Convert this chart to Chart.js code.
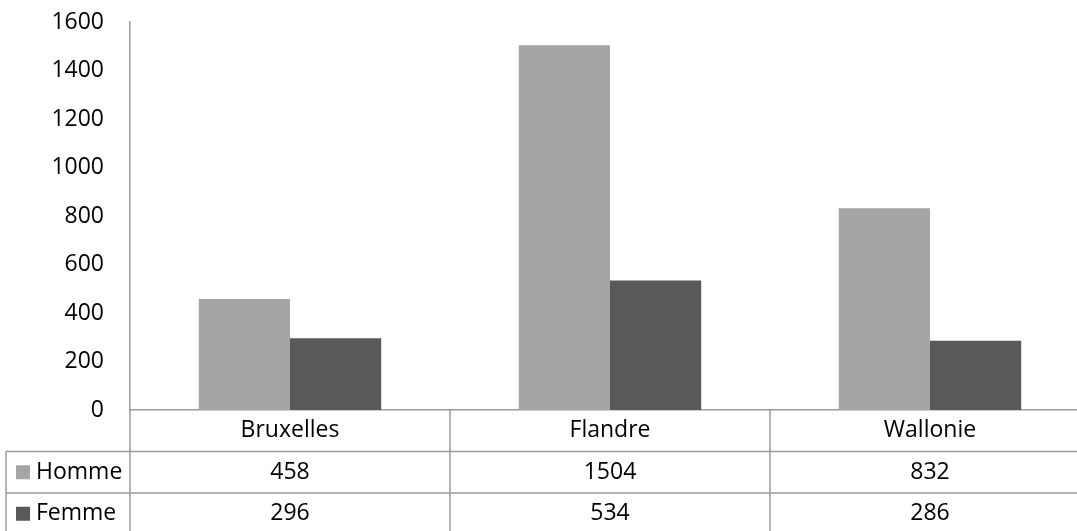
<!DOCTYPE html>
<html><head><meta charset="utf-8">
<script src="https://cdn.jsdelivr.net/npm/chart.js@4"></script>
<style>html,body{margin:0;padding:0;overflow:hidden;background:#fff}#wrap{width:1090px;height:531px;position:relative}</style>
</head><body><div id="wrap"><canvas id="c"></canvas></div>
<script>
const categories = ['Bruxelles', 'Flandre', 'Wallonie'];
const seriesNames = ['Homme', 'Femme'];
const homme = [458, 1504, 832];
const femme = [296, 534, 286];
const yTicks = [0, 200, 400, 600, 800, 1000, 1200, 1400, 1600];
const colors = ['#a5a5a5', '#595959'];
const FONT = '"Open Sans", sans-serif';
const FS = 23;
const LINE = '#9a9a9a';

const tablePlugin = {
  id: 'table',
  afterDraw(chart) {
    const ctx = chart.ctx, xs = chart.scales.x, ca = chart.chartArea;
    const n = categories.length, catW = (ca.right - ca.left) / n;
    const top = ca.bottom, rowH = 41.5, bottom = top + rowH * 3;
    const labelLeft = 6;
    ctx.save();
    ctx.strokeStyle = LINE; ctx.lineWidth = 1.5;
    ctx.beginPath();
    for (let i = 0; i <= n; i++) {
      const x = ca.left + catW * i;
      ctx.moveTo(x, top); ctx.lineTo(x, bottom);
    }
    ctx.moveTo(labelLeft, top + rowH); ctx.lineTo(labelLeft, bottom);
    for (let r = 1; r <= 3; r++) {
      const y = top + rowH * r;
      ctx.moveTo(labelLeft, y); ctx.lineTo(ca.right + 5, y);
    }
    ctx.stroke();
    ctx.fillStyle = '#000'; ctx.font = FS + 'px ' + FONT;
    ctx.textAlign = 'center'; ctx.textBaseline = 'middle';
    const rows = [homme, femme];
    categories.forEach((c, i) => {
      const cx = xs.getPixelForValue(i);
      ctx.fillText(c, cx, top + rowH / 2);
      rows.forEach((vals, r) => ctx.fillText(String(vals[i]), cx, top + rowH * (r + 1.5)));
    });
    seriesNames.forEach((s, r) => {
      const cy = top + rowH * (r + 1.5);
      ctx.fillStyle = colors[r];
      ctx.fillRect(16, cy - 7, 14, 14);
      ctx.fillStyle = '#000'; ctx.textAlign = 'left';
      ctx.fillText(s, 36, cy);
    });
    ctx.restore();
  }
};

new Chart(document.getElementById('c'), {
  type: 'bar',
  data: {
    labels: categories,
    datasets: [
      { label: seriesNames[0], data: homme, backgroundColor: colors[0], categoryPercentage: 0.57, barPercentage: 1 },
      { label: seriesNames[1], data: femme, backgroundColor: colors[1], categoryPercentage: 0.57, barPercentage: 1 }
    ]
  },
  options: {
    responsive: true, maintainAspectRatio: false, animation: false,
    layout: { padding: { top: 22, bottom: 121, left: 0, right: 0 } },
    plugins: { legend: { display: false }, tooltip: { enabled: false } },
    scales: {
      x: {
        grid: { display: false, drawTicks: false },
        border: { display: true, color: LINE, width: 1.5 },
        ticks: { display: false },
        afterFit(s) { s.height = 0; s.paddingLeft = 0; s.paddingRight = 0; }
      },
      y: {
        min: 0, max: 1600,
        afterBuildTicks(s) { s.ticks = yTicks.map(v => ({ value: v })); },
        grid: { display: false, drawTicks: false },
        border: { display: true, color: LINE, width: 1.5 },
        ticks: { padding: 26, color: '#000', font: { family: FONT, size: FS }, callback: v => String(v) },
        afterFit(s) { s.width = 130; s.paddingTop = 0; s.paddingBottom = 0; }
      }
    }
  },
  plugins: [tablePlugin]
});
</script></body></html>
